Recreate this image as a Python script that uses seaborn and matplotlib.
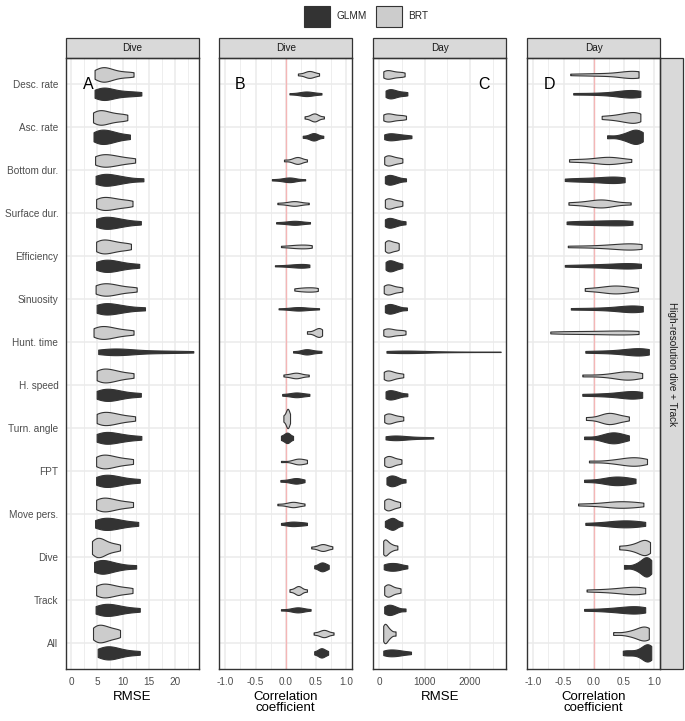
import numpy as np
import pandas as pd
import matplotlib
matplotlib.use("Agg")
import matplotlib.pyplot as plt
import seaborn as sns
from matplotlib.patches import Patch, Rectangle

categories = ["Desc. rate", "Asc. rate", "Bottom dur.", "Surface dur.", "Efficiency",
              "Sinuosity", "Hunt. time", "H. speed", "Turn. angle", "FPT",
              "Move pers.", "Dive", "Track", "All"]

# A: RMSE (dive)
rmse_dive_brt = [
    [4.5, 5.2, 5.8, 6.2, 6.6, 7.2, 8.0, 9.0, 10.5, 12.0],
    [4.2, 4.8, 5.4, 5.9, 6.5, 7.3, 8.3, 9.5, 10.8],
    [4.6, 5.3, 6.0, 6.7, 7.4, 8.2, 9.2, 10.5, 12.3],
    [4.8, 5.5, 6.1, 6.8, 7.5, 8.3, 9.3, 10.5, 11.8],
    [4.8, 5.4, 6.0, 6.6, 7.3, 8.0, 9.0, 10.2, 11.5],
    [4.7, 5.4, 6.1, 6.8, 7.5, 8.3, 9.3, 10.8, 12.6],
    [4.3, 5.0, 5.7, 6.3, 7.0, 7.8, 8.8, 10.2, 12.0],
    [4.9, 5.5, 6.1, 6.7, 7.4, 8.1, 9.0, 10.3, 12.0],
    [4.9, 5.5, 6.1, 6.8, 7.5, 8.2, 9.2, 10.5, 12.3],
    [4.8, 5.4, 6.0, 6.6, 7.3, 8.0, 9.0, 10.3, 11.9],
    [4.8, 5.4, 6.0, 6.6, 7.3, 8.0, 9.0, 10.3, 11.9],
    [4.0, 4.4, 4.8, 5.2, 5.6, 6.0, 6.5, 7.3, 8.2, 9.4],
    [4.8, 5.4, 6.0, 6.6, 7.3, 8.0, 9.0, 10.3, 11.8],
    [4.2, 4.7, 5.2, 5.7, 6.2, 6.8, 7.5, 8.4, 9.4],
]
rmse_dive_glmm = [
    [4.5, 5.3, 5.9, 6.3, 6.8, 7.5, 8.5, 10.0, 11.5, 13.5],
    [4.3, 5.0, 5.6, 6.2, 6.8, 7.5, 8.3, 9.5, 11.3],
    [4.7, 5.5, 6.2, 6.8, 7.5, 8.4, 9.5, 11.0, 13.9],
    [4.8, 5.6, 6.3, 7.0, 7.7, 8.5, 9.6, 11.0, 13.4],
    [4.8, 5.6, 6.3, 7.0, 7.7, 8.5, 9.5, 11.0, 13.1],
    [4.9, 5.6, 6.3, 7.0, 7.8, 8.7, 9.8, 11.5, 14.2],
    [5.2, 6.3, 7.3, 8.0, 8.7, 9.5, 10.5, 12.0, 14.0, 17.0, 19.5, 23.5],
    [4.9, 5.7, 6.4, 7.1, 7.8, 8.6, 9.6, 11.2, 13.4],
    [4.9, 5.7, 6.4, 7.1, 7.8, 8.7, 9.8, 11.3, 13.5],
    [4.8, 5.6, 6.3, 7.0, 7.7, 8.5, 9.5, 11.0, 13.2],
    [4.6, 5.5, 6.2, 6.9, 7.6, 8.4, 9.4, 10.8, 12.9],
    [4.4, 5.0, 5.6, 6.1, 6.7, 7.5, 8.5, 10.0, 12.5],
    [4.7, 5.6, 6.3, 7.0, 7.7, 8.5, 9.5, 11.0, 13.2],
    [5.1, 5.9, 6.6, 7.2, 7.8, 8.5, 9.5, 11.0, 13.2],
]

# B: correlation (dive)
corr_dive_brt = [
    [0.20, 0.30, 0.34, 0.37, 0.39, 0.41, 0.44, 0.48, 0.55],
    [0.31, 0.40, 0.44, 0.46, 0.48, 0.50, 0.53, 0.63],
    [-0.03, 0.10, 0.15, 0.18, 0.20, 0.22, 0.25, 0.35],
    [-0.14, 0.00, 0.08, 0.12, 0.15, 0.18, 0.24, 0.38],
    [-0.08, 0.05, 0.12, 0.18, 0.23, 0.28, 0.33, 0.38, 0.43],
    [0.14, 0.22, 0.28, 0.33, 0.38, 0.43, 0.48, 0.53],
    [0.35, 0.45, 0.50, 0.53, 0.55, 0.57, 0.60],
    [-0.04, 0.06, 0.12, 0.15, 0.18, 0.21, 0.26, 0.38],
    [-0.04, -0.01, 0.01, 0.02, 0.03, 0.04, 0.05, 0.07],
    [-0.08, 0.10, 0.16, 0.19, 0.21, 0.23, 0.27, 0.33, 0.35],
    [-0.14, 0.00, 0.07, 0.10, 0.13, 0.16, 0.21, 0.31],
    [0.42, 0.52, 0.56, 0.59, 0.61, 0.63, 0.66, 0.70, 0.77],
    [0.06, 0.14, 0.18, 0.20, 0.21, 0.23, 0.26, 0.35],
    [0.46, 0.55, 0.59, 0.62, 0.64, 0.66, 0.70, 0.79],
]
corr_dive_glmm = [
    [0.06, 0.20, 0.27, 0.31, 0.34, 0.37, 0.41, 0.48, 0.59],
    [0.28, 0.38, 0.42, 0.45, 0.47, 0.49, 0.52, 0.62],
    [-0.23, -0.08, 0.00, 0.04, 0.07, 0.10, 0.15, 0.32],
    [-0.16, -0.02, 0.07, 0.12, 0.16, 0.20, 0.27, 0.40],
    [-0.18, -0.02, 0.08, 0.15, 0.20, 0.25, 0.30, 0.34, 0.39],
    [-0.12, 0.05, 0.13, 0.18, 0.22, 0.26, 0.32, 0.42, 0.55],
    [0.12, 0.25, 0.30, 0.33, 0.35, 0.38, 0.42, 0.50, 0.59],
    [-0.06, 0.05, 0.12, 0.16, 0.19, 0.23, 0.30, 0.39],
    [-0.08, -0.03, 0.00, 0.02, 0.04, 0.06, 0.12],
    [-0.09, 0.03, 0.10, 0.14, 0.17, 0.20, 0.24, 0.31],
    [-0.08, 0.02, 0.06, 0.10, 0.14, 0.18, 0.23, 0.29, 0.35],
    [0.47, 0.53, 0.56, 0.58, 0.60, 0.62, 0.64, 0.67, 0.71],
    [-0.08, 0.08, 0.14, 0.18, 0.21, 0.24, 0.29, 0.41],
    [0.47, 0.53, 0.56, 0.58, 0.60, 0.62, 0.65, 0.70],
]

# C: RMSE (day)
rmse_day_brt = [
    [90, 130, 170, 210, 260, 320, 400, 480, 560],
    [90, 130, 170, 220, 270, 330, 420, 500, 590],
    [110, 150, 190, 230, 280, 340, 420, 510],
    [125, 160, 200, 240, 290, 350, 430, 510],
    [125, 160, 190, 230, 270, 320, 380, 430],
    [100, 140, 180, 220, 270, 330, 420, 510],
    [90, 130, 170, 220, 270, 330, 420, 500, 580],
    [100, 140, 180, 220, 270, 330, 420, 530],
    [110, 150, 190, 230, 280, 340, 430, 530],
    [110, 150, 190, 230, 270, 320, 400, 490],
    [110, 150, 180, 220, 260, 310, 380, 460],
    [88, 100, 115, 135, 160, 190, 240, 300, 400],
    [110, 150, 180, 210, 250, 300, 380, 470],
    [88, 100, 115, 130, 150, 175, 210, 260, 360],
]
rmse_day_glmm = [
    [140, 180, 220, 260, 300, 350, 420, 520, 620],
    [110, 170, 220, 270, 330, 400, 480, 580, 710],
    [125, 170, 210, 250, 300, 360, 440, 590],
    [125, 170, 210, 250, 300, 360, 440, 580],
    [140, 180, 220, 260, 300, 350, 420, 510],
    [125, 170, 210, 250, 300, 360, 440, 610],
    [160, 300, 400, 480, 560, 650, 760, 900, 1050, 1400, 1900, 2675],
    [140, 180, 220, 270, 320, 380, 460, 620],
    [140, 220, 290, 350, 420, 500, 600, 750, 950, 1190],
    [160, 210, 250, 290, 330, 380, 440, 580],
    [125, 190, 240, 280, 310, 340, 400, 510],
    [100, 170, 230, 290, 350, 410, 480, 620],
    [110, 160, 200, 240, 280, 330, 410, 580],
    [90, 150, 210, 270, 330, 390, 460, 560, 700],
]

# D: correlation (day)
corr_day_brt = [
    [-0.39, -0.10, 0.10, 0.30, 0.45, 0.55, 0.62, 0.67, 0.70, 0.72, 0.74],
    [0.13, 0.30, 0.42, 0.50, 0.57, 0.63, 0.68, 0.72, 0.77],
    [-0.41, -0.20, 0.00, 0.12, 0.20, 0.26, 0.32, 0.42, 0.62],
    [-0.42, -0.20, -0.05, 0.05, 0.10, 0.15, 0.22, 0.32, 0.61],
    [-0.43, -0.10, 0.15, 0.30, 0.42, 0.52, 0.60, 0.67, 0.73, 0.79],
    [-0.15, 0.05, 0.18, 0.27, 0.34, 0.40, 0.48, 0.58, 0.73],
    [-0.72, -0.50, -0.30, -0.10, 0.10, 0.25, 0.40, 0.55, 0.65, 0.74],
    [-0.19, 0.15, 0.35, 0.45, 0.51, 0.56, 0.62, 0.70, 0.80],
    [-0.13, 0.08, 0.17, 0.22, 0.26, 0.30, 0.36, 0.45, 0.58],
    [-0.08, 0.25, 0.40, 0.50, 0.57, 0.63, 0.68, 0.74, 0.80, 0.88],
    [-0.26, 0.00, 0.18, 0.30, 0.38, 0.44, 0.52, 0.62, 0.72, 0.82],
    [0.42, 0.58, 0.68, 0.75, 0.80, 0.83, 0.86, 0.89, 0.93],
    [-0.12, 0.12, 0.30, 0.42, 0.52, 0.60, 0.67, 0.73, 0.79, 0.85],
    [0.32, 0.55, 0.67, 0.74, 0.79, 0.83, 0.86, 0.89, 0.91],
]
corr_day_glmm = [
    [-0.34, 0.00, 0.25, 0.40, 0.50, 0.57, 0.63, 0.68, 0.72, 0.77],
    [0.22, 0.45, 0.55, 0.62, 0.66, 0.69, 0.72, 0.76, 0.81],
    [-0.48, -0.30, -0.15, 0.00, 0.12, 0.22, 0.30, 0.38, 0.45, 0.51],
    [-0.45, -0.30, -0.15, 0.00, 0.12, 0.24, 0.35, 0.47, 0.57, 0.64],
    [-0.48, -0.20, 0.00, 0.18, 0.32, 0.45, 0.55, 0.63, 0.70, 0.78],
    [-0.38, -0.05, 0.20, 0.38, 0.50, 0.58, 0.65, 0.71, 0.76, 0.81],
    [-0.14, 0.10, 0.30, 0.45, 0.55, 0.63, 0.70, 0.76, 0.81, 0.86, 0.91],
    [-0.19, 0.10, 0.30, 0.45, 0.55, 0.62, 0.68, 0.74, 0.80],
    [-0.16, 0.10, 0.20, 0.26, 0.31, 0.35, 0.40, 0.47, 0.58],
    [-0.16, 0.10, 0.23, 0.30, 0.36, 0.42, 0.50, 0.58, 0.69],
    [-0.14, 0.10, 0.25, 0.35, 0.43, 0.50, 0.58, 0.66, 0.75, 0.85],
    [0.50, 0.68, 0.77, 0.82, 0.85, 0.87, 0.89, 0.92, 0.95],
    [-0.16, 0.12, 0.30, 0.42, 0.52, 0.60, 0.67, 0.73, 0.79, 0.85],
    [0.48, 0.58, 0.70, 0.80, 0.84, 0.87, 0.89, 0.91, 0.93, 0.95],
]

panel_titles = ["Dive", "Dive", "Day", "Day"]
panel_letters = ["A", "B", "C", "D"]
x_titles = ["RMSE", "Correlation\ncoefficient", "RMSE", "Correlation\ncoefficient"]
side_title = "High-resolution dive + Track"


def long_table(brt, glmm):
    rows = []
    for model, lists in [("BRT", brt), ("GLMM", glmm)]:
        for cat, vals in zip(categories, lists):
            for v in vals:
                rows.append({"category": cat, "model": model, "value": v})
    return pd.DataFrame(rows)


tables = [long_table(rmse_dive_brt, rmse_dive_glmm),
          long_table(corr_dive_brt, corr_dive_glmm),
          long_table(rmse_day_brt, rmse_day_glmm),
          long_table(corr_day_brt, corr_day_glmm)]

sns.set_theme(style="white")
plt.rcParams["font.family"] = ["Liberation Sans", "DejaVu Sans"]
plt.rcParams["axes.unicode_minus"] = False

W, H = 685, 721
fig = plt.figure(figsize=(W / 100, H / 100), dpi=100)

lefts = [66, 219.3, 373.3, 527.3]
pw = 133
top, bottom = 58.3, 669
xlims = [(-1.0, 24.6), (-1.1, 1.1), (-130, 2800), (-1.1, 1.1)]
majors = [[0, 5, 10, 15, 20], [-1, -0.5, 0, 0.5, 1], [0, 1000, 2000], [-1, -0.5, 0, 0.5, 1]]
minors = [[2.5, 7.5, 12.5, 17.5, 22.5], [-0.75, -0.25, 0.25, 0.75], [500, 1500, 2500],
          [-0.75, -0.25, 0.25, 0.75]]
tick_fmt = ["{:g}", "{:.1f}", "{:g}", "{:.1f}"]
letter_x = [3.3, -0.75, 2310, -0.73]
palette = {"BRT": "#cccccc", "GLMM": "#333333"}
grey = "#333333"

axes = []
for i in range(4):
    ax = fig.add_axes([lefts[i] / W, 1 - bottom / H, pw / W, (bottom - top) / H])
    axes.append(ax)
    if i in (1, 3):
        ax.axvline(0, color="#f4b6b6", lw=1.0, zorder=1)
    sns.violinplot(data=tables[i], x="value", y="category", hue="model",
                   order=categories, hue_order=["BRT", "GLMM"], palette=palette,
                   orient="h", cut=0, inner=None, density_norm="area",
                   common_norm=True, width=0.9, bw_adjust=0.8,
                   linecolor=grey, linewidth=0.8, saturation=1,
                   legend=False, ax=ax)
    ax.set_xlim(*xlims[i])
    ax.set_ylim(13.6, -0.6)
    ax.set_xticks(majors[i])
    ax.set_xticklabels([tick_fmt[i].format(t) for t in majors[i]])
    ax.set_xticks(minors[i], minor=True)
    ax.set_axisbelow(True)
    ax.grid(which="major", color="#ebebeb", lw=1.1)
    ax.grid(which="minor", axis="x", color="#ebebeb", lw=0.6)
    ax.tick_params(which="minor", length=0)
    ax.tick_params(which="major", length=3.5, width=0.8, color=grey,
                   labelsize=7.2, labelcolor="#4d4d4d", pad=2)
    ax.set_ylabel("")
    if i > 0:
        ax.set_yticklabels([])
    for sp in ax.spines.values():
        sp.set_visible(True)
        sp.set_color(grey)
        sp.set_linewidth(1.0)
    ax.set_xlabel(x_titles[i], fontsize=9.5, color="black", labelpad=3,
                  linespacing=0.9)
    ax.text(letter_x[i], 0, panel_letters[i], fontsize=11.5, ha="center",
            va="center", color="black", zorder=5)
    # strip on top
    sh = 20.5 / (bottom - top)
    ax.add_patch(Rectangle((0, 1), 1, sh, transform=ax.transAxes, clip_on=False,
                           fc="#d9d9d9", ec=grey, lw=0.9))
    ax.text(0.5, 1 + sh / 2, panel_titles[i], transform=ax.transAxes, ha="center",
            va="center", fontsize=7.2, color="#1a1a1a")

# strip on the right
ax = axes[3]
sw = 22.5 / pw
ax.add_patch(Rectangle((1, 0), sw, 1, transform=ax.transAxes, clip_on=False,
                       fc="#d9d9d9", ec=grey, lw=0.9))
ax.text(1 + sw / 2, 0.5, side_title, transform=ax.transAxes, ha="center",
        va="center", rotation=-90, fontsize=7.2, color="#1a1a1a")

handles = [Patch(fc=palette["GLMM"], ec=grey, lw=0.8),
           Patch(fc=palette["BRT"], ec=grey, lw=0.8)]
fig.legend(handles, ["GLMM", "BRT"], loc="upper center",
           bbox_to_anchor=(366 / W, 1 - 1 / H), ncol=2, frameon=False,
           fontsize=7.2, handlelength=2.6, handleheight=2.8,
           handletextpad=0.6, columnspacing=0.9, borderaxespad=0.1)

fig.savefig("out.png", dpi=100)
